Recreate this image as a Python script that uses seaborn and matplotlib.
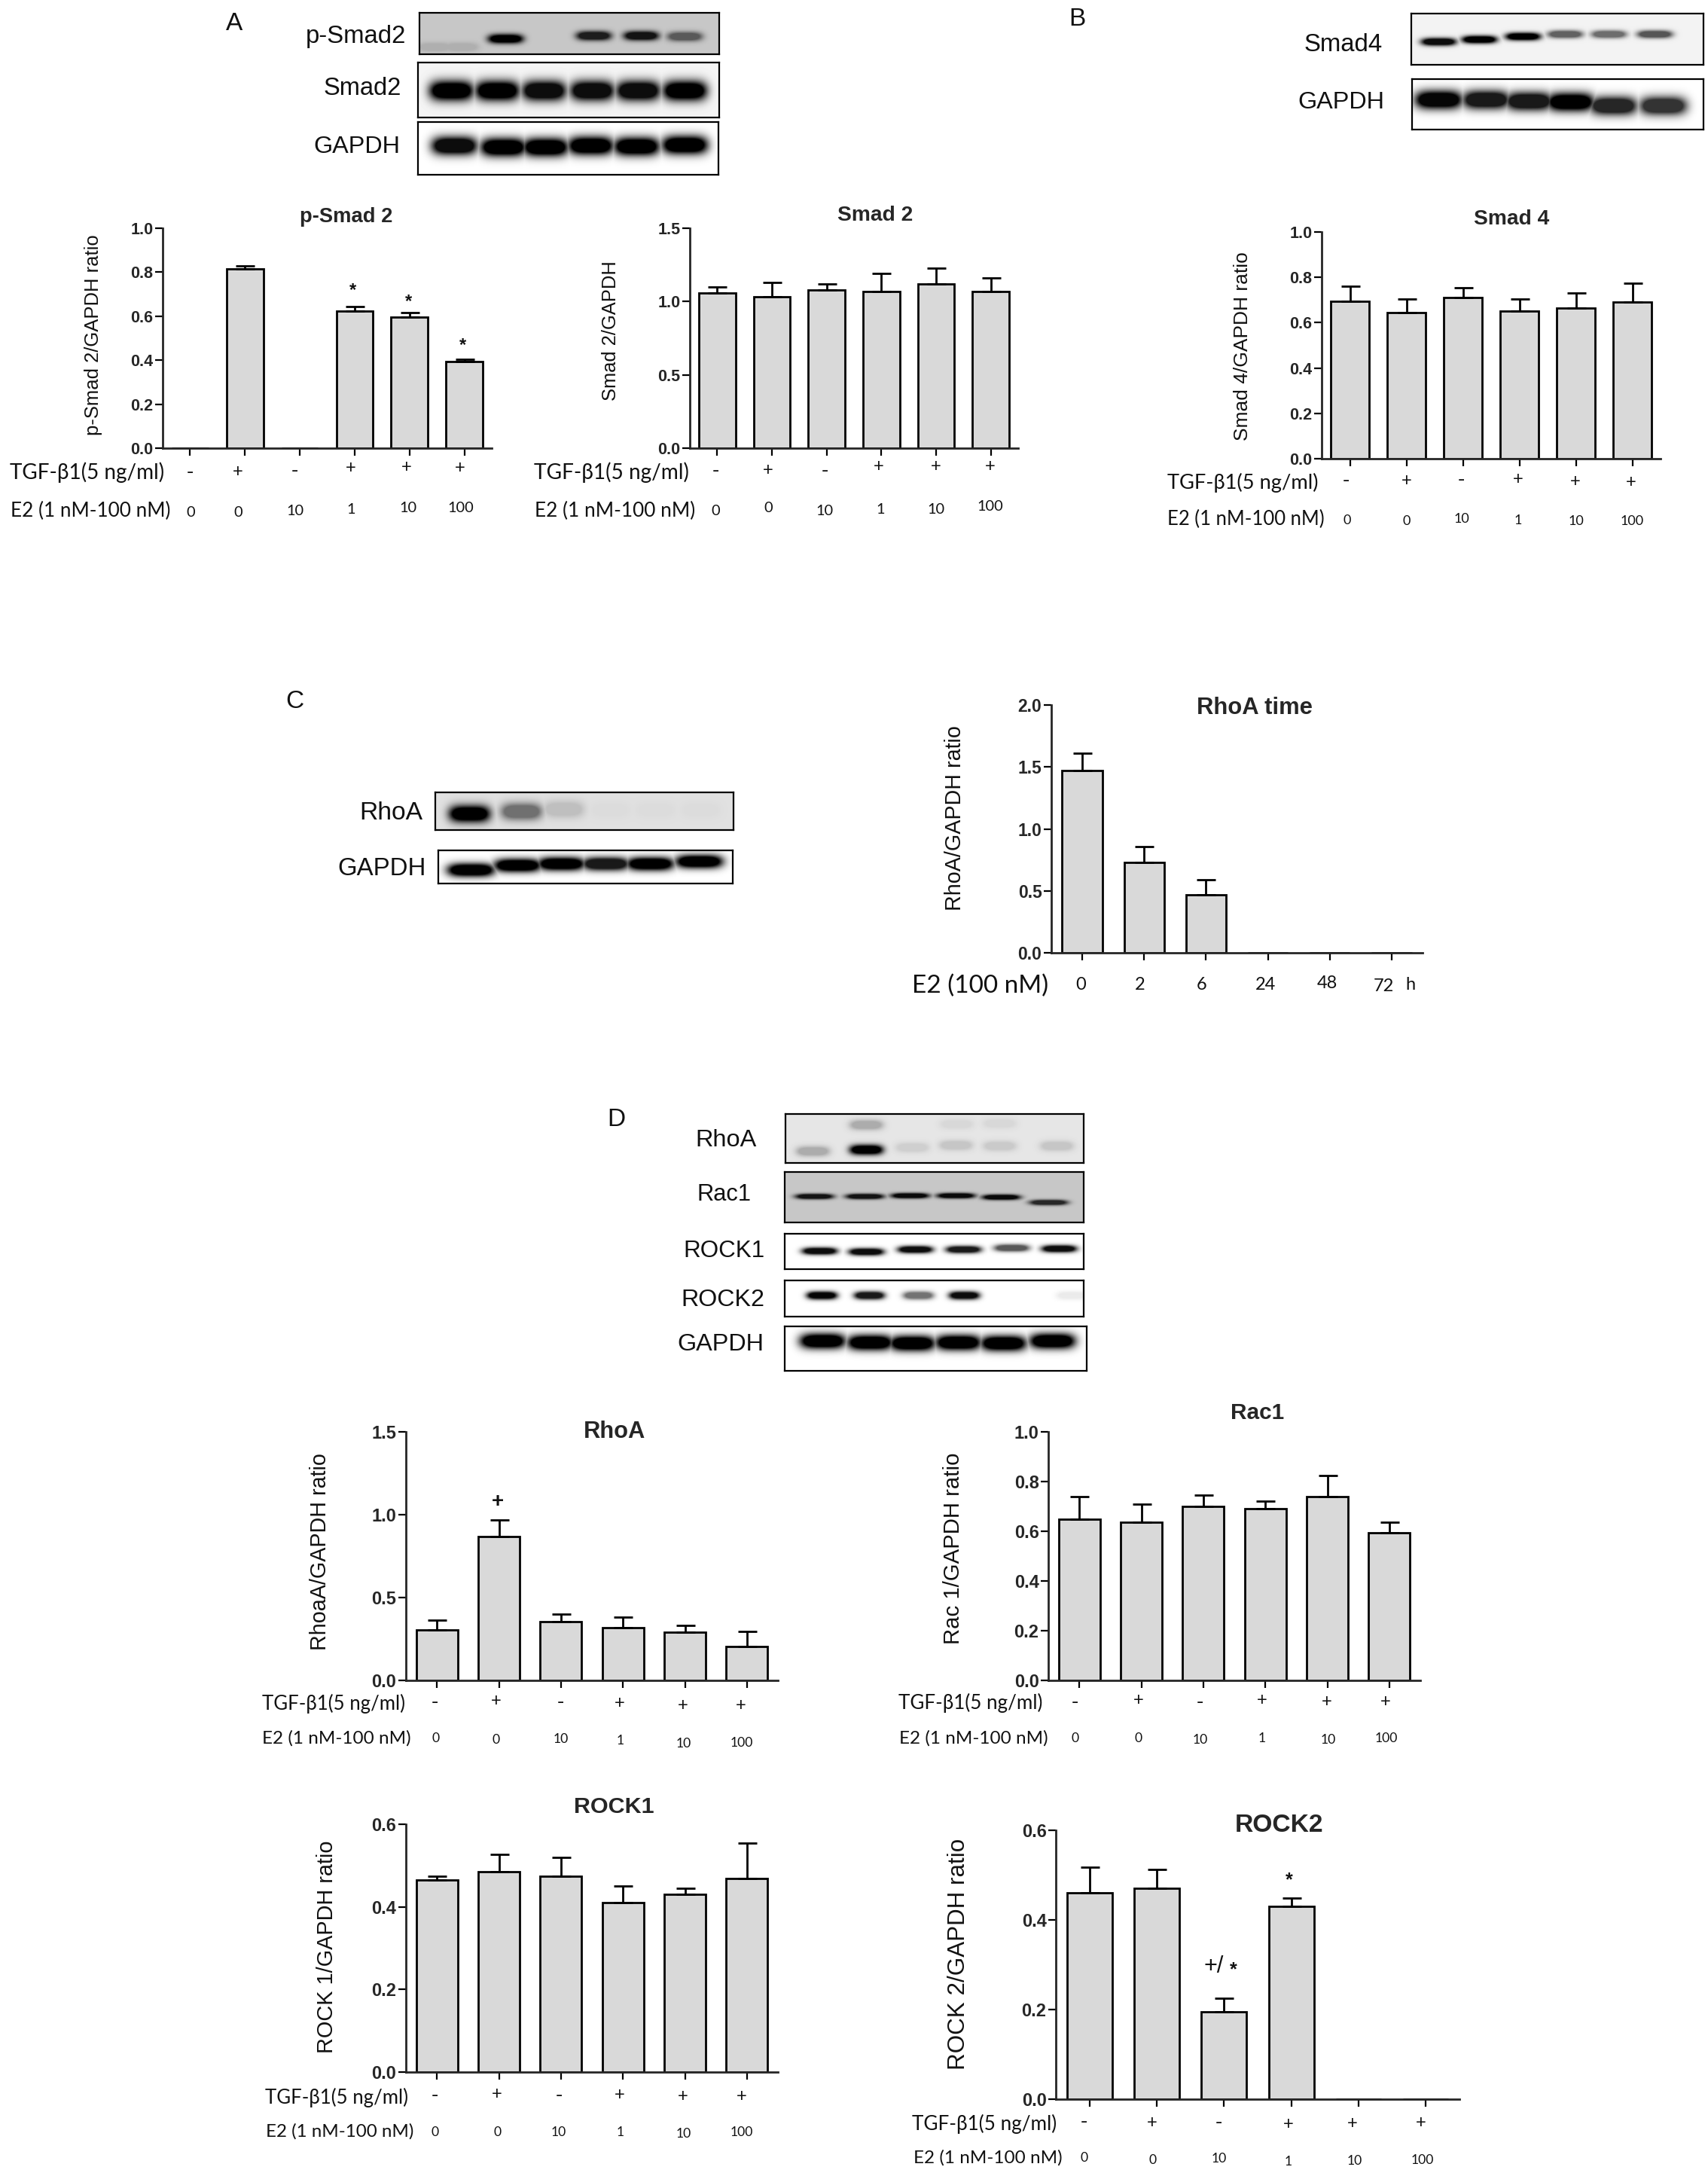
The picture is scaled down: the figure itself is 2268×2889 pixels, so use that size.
import numpy as np
import pandas as pd
import matplotlib
matplotlib.use('Agg')
import matplotlib.pyplot as plt
import seaborn as sns

sns.set_theme(style='ticks')
plt.rcParams['font.family'] = ['Liberation Sans', 'DejaVu Sans']

W, H = 2268, 2889
BAR_GREY = '#d9d9d9'

# ---- chart values ----
TREATMENTS = ['-/0', '+/0', '-/10', '+/1', '+/10', '+/100']
TGF_SIGNS = ['-', '+', '-', '+', '+', '+']
E2_DOSES = ['0', '0', '10', '1', '10', '100']
TIME_POINTS = ['0', '2', '6', '24', '48', '72']

p_smad2 = [0, 0.815, 0, 0.625, 0.597, 0.395]
p_smad2_top = [0, 0.83, 0, 0.645, 0.615, 0.405]
smad2 = [1.06, 1.03, 1.08, 1.07, 1.12, 1.07]
smad2_top = [1.10, 1.13, 1.12, 1.19, 1.23, 1.16]
smad4 = [0.695, 0.645, 0.71, 0.65, 0.665, 0.69]
smad4_top = [0.76, 0.705, 0.755, 0.705, 0.73, 0.775]
rhoa_time = [1.47, 0.73, 0.47, 0, 0, 0]
rhoa_time_top = [1.61, 0.855, 0.59, 0, 0, 0]
rhoa = [0.305, 0.87, 0.355, 0.32, 0.29, 0.205]
rhoa_top = [0.365, 0.97, 0.40, 0.38, 0.33, 0.295]
rac1 = [0.65, 0.635, 0.70, 0.69, 0.74, 0.595]
rac1_top = [0.74, 0.71, 0.745, 0.72, 0.825, 0.635]
rock1 = [0.465, 0.485, 0.475, 0.41, 0.43, 0.468]
rock1_top = [0.475, 0.527, 0.52, 0.45, 0.445, 0.555]
rock2 = [0.46, 0.47, 0.195, 0.43, 0, 0]
rock2_top = [0.517, 0.512, 0.225, 0.448, 0, 0]

# band darkness per lane on the blots
band_p_smad2 = [0.12, 0.12, 1.0, 0.85, 0.9, 0.55]
band_smad2 = [1.0, 1.0, 0.95, 0.95, 0.95, 1.0]
band_gapdh_a = [0.95, 1.0, 1.0, 1.0, 1.0, 1.0]
band_smad4 = [0.95, 1.0, 1.0, 0.6, 0.55, 0.65]
band_gapdh_b = [0.98, 0.9, 0.9, 1.0, 0.85, 0.8]
band_rhoa_c = [1.0, 0.5, 0.15, 0.02, 0.02, 0.02]
band_gapdh_c = [1.0, 1.0, 1.0, 0.9, 1.0, 1.0]
band_rhoa_d = [0.25, 1.0, 0.1, 0.14, 0.12, 0.14]
band_rac1 = [0.9, 0.9, 0.95, 0.95, 0.95, 0.8]
band_rock1 = [0.95, 0.95, 0.95, 0.9, 0.65, 0.95]
band_rock2 = [0.98, 0.9, 0.55, 0.95, 0, 0.08]
band_gapdh_d = [1.0, 1.0, 1.0, 1.0, 1.0, 1.0]

fig = plt.figure(figsize=(W / 100, H / 100), dpi=100, facecolor='white')
renderer = fig.canvas.get_renderer()


def fit(t, span):
    # scale a text so that its long side covers span pixels
    box = t.get_window_extent(renderer)
    long_side = max(box.width, box.height)
    t.set_fontsize(t.get_fontsize() * span / long_side)
    return t


def put(s, x, y, size=None, span=None, **kw):
    kw.setdefault('ha', 'center')
    kw.setdefault('va', 'center')
    t = fig.text(x / W, 1 - y / H, s, fontsize=size if size else 20, **kw)
    if span:
        fit(t, span)
    return t


def bar_panel(box, cats, values, tops, yticks, title, title_xy, title_span,
              ylabel, ylabel_xy, ylabel_span, bar_width=0.67, tick_size=15.5):
    x0, y0, x1, y1 = box
    ax = fig.add_axes([x0 / W, 1 - y1 / H, (x1 - x0) / W, (y1 - y0) / H])
    df = pd.DataFrame({'group': cats, 'ratio': values})
    sns.barplot(data=df, x='group', y='ratio', order=cats, color=BAR_GREY, saturation=1,
                edgecolor='black', linewidth=2.0, width=bar_width, errorbar=None, ax=ax)
    err = np.array(tops) - np.array(values)
    keep = err > 0
    ax.errorbar(np.arange(len(cats))[keep], np.array(values)[keep],
                yerr=[np.zeros(keep.sum()), err[keep]], fmt='none', ecolor='black',
                elinewidth=2.0, capsize=9, capthick=2.0)
    ax.set_xlim(-0.5, 5.5)
    ax.set_ylim(yticks[0], yticks[-1])
    ax.set_yticks(yticks)
    ax.set_yticklabels([f'{v:.1f}' for v in yticks], fontweight='bold', fontsize=tick_size)
    ax.set_xticks(range(len(cats)))
    ax.set_xticklabels([])
    ax.set_xlabel('')
    ax.tick_params(axis='both', length=7, width=1.6, pad=2, color='black')
    sns.despine(ax=ax)
    for side in ['left', 'bottom']:
        ax.spines[side].set_linewidth(2.0)
    t = ax.set_title(title, fontweight='bold', va='center', pad=0,
                     x=(title_xy[0] - x0) / (x1 - x0),
                     y=(y1 - title_xy[1]) / (y1 - y0))
    fit(t, title_span)
    lab = ax.set_ylabel(ylabel, fontsize=20, color='#111111')
    ax.yaxis.set_label_coords(ylabel_xy[0] / W, 1 - ylabel_xy[1] / H, transform=fig.transFigure)
    lab.set_va('center')
    fit(lab, ylabel_span)
    return ax


def row_labels(tgf_span, e2_span, signs_x, signs_y, nums_x, nums_y, num_px):
    # two hand placed rows below the x axis, as in the figure
    put('TGF-β1(5 ng/ml)', (tgf_span[0] + tgf_span[1]) / 2, tgf_span[2] + 2,
        span=tgf_span[1] - tgf_span[0], family='Lato', color='#111111')
    put('E2 (1 nM-100 nM)', (e2_span[0] + e2_span[1]) / 2, e2_span[2] + 2,
        span=e2_span[1] - e2_span[0], family='Lato', color='#111111')
    for s, x, y in zip(TGF_SIGNS, signs_x, signs_y):
        put(s, x, y, size=20 if s == '-' else 17, color='#111111')
    for s, x, y in zip(E2_DOSES, nums_x, nums_y):
        put(s, x, y + 1, size=num_px * 0.72, color='#111111', family='Lato')


def blot(box, darkness, lanes_x, lanes_y, band_w, band_h, label, label_x, label_y, label_span,
         bg=1.0, extra=None):
    x0, y0, x1, y1 = box
    ax = fig.add_axes([x0 / W, 1 - y1 / H, (x1 - x0) / W, (y1 - y0) / H])
    xx, yy = np.meshgrid(np.arange(x0, x1), np.arange(y0, y1))
    img = np.zeros(xx.shape)
    bands = list(zip(darkness, lanes_x, lanes_y)) + (extra or [])
    for d, cx, cy in bands:
        g = np.exp(-((xx - cx) / (band_w / 2)) ** 4 - ((yy - cy) / (band_h / 2)) ** 2)
        img = np.maximum(img, np.clip(1.6 * g, 0, 1) * d)
    ax.imshow(bg * (1 - img), cmap='gray', vmin=0, vmax=1, aspect='auto', interpolation='bilinear')
    ax.set_xticks([])
    ax.set_yticks([])
    for sp in ax.spines.values():
        sp.set_linewidth(1.6)
        sp.set_color('black')
    put(label, label_x - label_span / 2, label_y + 2, span=label_span, color='#111111')


# ---- panel letters ----
put('A', 311, 31, size=24, color='#111111')
put('B', 1430, 25, size=24, color='#111111')
put('C', 391, 932, size=24, color='#111111')
put('D', 818, 1487, size=24, color='#111111')

# ---- blots ----
blot((557, 17, 955, 72), band_p_smad2, [577, 612, 671, 788, 851, 909], [62, 62, 51, 47, 47, 48],
     46, 12, 'p-Smad2', 539, 46, 133, bg=0.78)
blot((555, 83, 955, 156), band_smad2, [599, 660, 722, 786, 847, 909], [120] * 6,
     58, 26, 'Smad2', 533, 116, 103, bg=0.96)
blot((555, 162, 954, 232), band_gapdh_a, [603, 668, 724, 784, 845, 909], [193, 195, 195, 193, 194, 192],
     60, 24, 'GAPDH', 531, 193, 115, bg=1.0)

blot((1874, 18, 2262, 86), band_smad4, [1910, 1964, 2022, 2078, 2136, 2197], [55, 52, 48, 45, 45, 45],
     46, 10, 'Smad4', 1836, 57, 104, bg=0.95)
blot((1875, 105, 2262, 172), band_gapdh_b, [1910, 1973, 2030, 2085, 2142, 2208], [132, 132, 134, 135, 140, 140],
     62, 24, 'GAPDH', 1838, 134, 115, bg=1.0)

blot((578, 1052, 974, 1102), band_rhoa_c, [623, 692, 748, 810, 870, 930], [1080, 1077, 1074, 1075, 1075, 1075],
     54, 22, 'RhoA', 561, 1077, 84, bg=0.88)
blot((582, 1129, 973, 1173), band_gapdh_c, [625, 687, 745, 804, 863, 928], [1155, 1149, 1147, 1147, 1147, 1144],
     62, 17, 'GAPDH', 566, 1152, 117, bg=1.0)

blot((1043, 1479, 1439, 1544), band_rhoa_d, [1079, 1150, 1211, 1269, 1327, 1403], [1528, 1526, 1523, 1520, 1521, 1521],
     44, 13, 'RhoA', 1005, 1512, 81, bg=0.9,
     extra=[(0.25, 1150, 1493), (0.06, 1270, 1492), (0.06, 1327, 1491)])
blot((1042, 1556, 1439, 1623), band_rac1, [1081, 1148, 1208, 1269, 1329, 1392], [1588, 1588, 1587, 1587, 1589, 1596],
     50, 7, 'Rac1', 997, 1584, 72, bg=0.78)
blot((1042, 1638, 1439, 1685), band_rock1, [1088, 1150, 1215, 1279, 1343, 1406], [1661, 1662, 1659, 1659, 1657, 1658],
     46, 9, 'ROCK1', 1015, 1659, 108, bg=1.0)
blot((1042, 1700, 1439, 1748), band_rock2, [1091, 1154, 1219, 1280, 1343, 1423], [1720] * 6,
     40, 10, 'ROCK2', 1015, 1724, 111, bg=1.0)
blot((1042, 1761, 1443, 1820), band_gapdh_d, [1092, 1155, 1211, 1272, 1332, 1397], [1780, 1782, 1783, 1782, 1783, 1780],
     60, 20, 'GAPDH', 1014, 1783, 115, bg=1.0)

# ---- bar panels ----
bar_panel((216, 303, 653, 595), TREATMENTS, p_smad2, p_smad2_top, [0, 0.2, 0.4, 0.6, 0.8, 1.0],
          'p-Smad 2', (460, 288), 123, 'p-Smad 2/GAPDH ratio', (124, 445), 266)
row_labels((13, 218, 625), (14, 226, 676),
           [252, 316, 391, 466, 540, 611], [627, 627, 625, 622, 621, 622],
           [253, 316, 392, 466, 542, 612], [679, 680, 678, 675, 674, 673], 20)
for x, y in [(469, 386), (543, 401), (615, 459)]:
    put('*', x, y, size=17, fontweight='bold', color='#111111')

bar_panel((916, 303, 1352, 595), TREATMENTS, smad2, smad2_top, [0, 0.5, 1.0, 1.5],
          'Smad 2', (1162, 286), 100, 'Smad 2/GAPDH', (811, 439), 185)
row_labels((709, 915, 625), (710, 923, 676),
           [950, 1020, 1095, 1167, 1243, 1315], [625, 625, 625, 620, 620, 620],
           [950, 1020, 1095, 1169, 1243, 1315], [677, 673, 677, 675, 675, 671], 20)

bar_panel((1755, 308, 2205, 609), TREATMENTS, smad4, smad4_top, [0, 0.2, 0.4, 0.6, 0.8, 1.0],
          'Smad 4', (2007, 291), 100, 'Smad 4/GAPDH ratio', (1650, 460), 251)
row_labels((1550, 1751, 639), (1550, 1758, 687),
           [1787, 1868, 1940, 2016, 2092, 2166], [638, 639, 637, 637, 640, 641],
           [1789, 1868, 1941, 2016, 2093, 2167], [690, 691, 688, 690, 691, 691], 18)

ax_c = bar_panel((1396, 936, 1889, 1265), TIME_POINTS, rhoa_time, rhoa_time_top, [0, 0.5, 1.0, 1.5, 2.0],
                 'RhoA time', (1666, 940), 153, 'RhoA/GAPDH ratio', (1268, 1086), 246, bar_width=0.65,
                 tick_size=16.5)
put('E2 (100 nM)', 1302, 1309, span=181, family='Lato', color='#111111')
for s, x, y in zip(TIME_POINTS, [1435, 1514, 1596, 1680, 1762, 1837], [1308, 1308, 1308, 1308, 1306, 1309]):
    put(s, x, y, size=17, family='Lato', color='#111111')
put('h', 1873, 1308, size=17, family='Lato', color='#111111')

bar_panel((539, 1901, 1033, 2231), TREATMENTS, rhoa, rhoa_top, [0, 0.5, 1.0, 1.5],
          'RhoA', (816, 1901), 82, 'RhoaA/GAPDH ratio', (425, 2060), 261, tick_size=17)
row_labels((348, 538, 2260), (348, 545, 2306),
           [577, 659, 744, 823, 907, 984], [2260, 2259, 2260, 2262, 2265, 2265],
           [579, 659, 745, 824, 908, 985], [2307, 2309, 2308, 2310, 2314, 2313], 17.5)
put('+', 661, 1994, size=20, fontweight='bold', color='#111111')

bar_panel((1392, 1901, 1886, 2231), TREATMENTS, rac1, rac1_top, [0, 0.2, 0.4, 0.6, 0.8, 1.0],
          'Rac1', (1670, 1876), 71, 'Rac 1/GAPDH ratio', (1266, 2056), 254, tick_size=17)
row_labels((1193, 1384, 2259), (1194, 1391, 2306),
           [1427, 1512, 1593, 1676, 1762, 1840], [2260, 2258, 2260, 2258, 2260, 2260],
           [1428, 1512, 1594, 1676, 1764, 1841], [2307, 2307, 2309, 2307, 2309, 2307], 17.5)

bar_panel((539, 2422, 1033, 2751), TREATMENTS, rock1, rock1_top, [0, 0.2, 0.4, 0.6],
          'ROCK1', (815, 2399), 106, 'ROCK 1/GAPDH ratio', (434, 2585), 282, tick_size=17)
row_labels((352, 542, 2783), (353, 549, 2828),
           [577, 660, 742, 823, 907, 985], [2782, 2781, 2782, 2782, 2784, 2784],
           [578, 661, 742, 824, 908, 985], [2830, 2830, 2830, 2830, 2832, 2830], 17.5)

bar_panel((1402, 2430, 1938, 2787), TREATMENTS, rock2, rock2_top, [0, 0.2, 0.4, 0.6],
          'ROCK2', (1699, 2423), 117, 'ROCK 2/GAPDH ratio', (1273, 2594), 306, tick_size=17)
row_labels((1211, 1403, 2818), (1213, 1410, 2863),
           [1439, 1530, 1618, 1711, 1796, 1887], [2817, 2819, 2818, 2821, 2820, 2819],
           [1440, 1531, 1619, 1711, 1799, 1889], [2864, 2867, 2865, 2869, 2868, 2867], 17.5)
put('*', 1712, 2496, size=18, fontweight='bold', color='#111111')
put('+/', 1612, 2611, size=22, color='#111111')
put('*', 1638, 2615, size=18, fontweight='bold', color='#111111')

fig.savefig('out.png', dpi=100, facecolor='white')
